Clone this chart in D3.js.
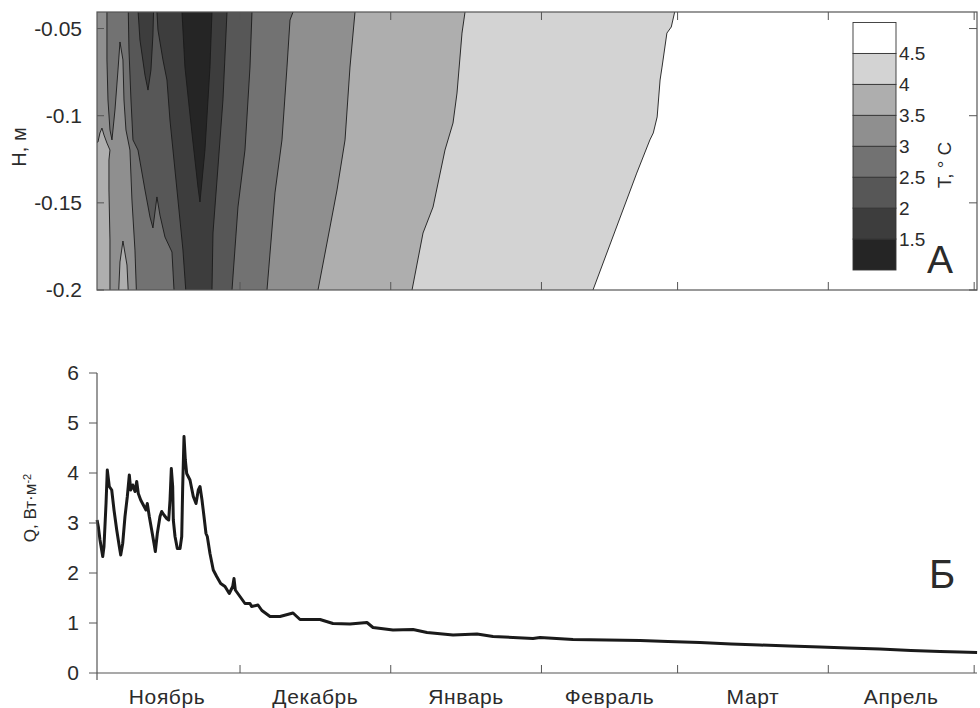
<!DOCTYPE html>
<html>
<head>
<meta charset="utf-8">
<style>
  body {
    margin: 0;
    background: #fff
  }
  text {
    font-family: "Liberation Sans", Arial, sans-serif;
    fill: #2b2b2b
  }
</style>
<script type="text/javascript" src="https://d3js.org/d3.v7.min.js"></script>
</head>
<body>
<svg id="chart" width="980" height="708"></svg>
<script type="text/javascript">
// ---- data: days are counted from 1 November, H in metres, T in deg C ----
const monthNames = ['Ноябрь', 'Декабрь', 'Январь', 'Февраль', 'Март', 'Апрель']
const depthTicks = [-0.05, -0.1, -0.15, -0.2]
const qTicks = [0, 1, 2, 3, 4, 5, 6]

// temperature levels and the grey of each band (band i lies below level i)
const tLevels = [1.5, 2, 2.5, 3, 3.5, 4, 4.5]
const bandEdges = [1, 1.5, 2, 2.5, 3, 3.5, 4, 4.5, 5]
const bandGreys = ['#252525', '#3d3d3d', '#575757', '#727272', '#8f8f8f', '#aeaeae', '#d3d3d3', '#ffffff']

// areas where T is below each level, as [day, H] outlines
const below45 = [[[-2, -0.03], [119.4, -0.03], [119.4, -0.0405], [118.7, -0.0491], [117.8, -0.0526], [116.8, -0.0721],
  [116.4, -0.0795], [115.8, -0.1007], [115.0, -0.1099], [114.3, -0.1139], [111.6, -0.1329], [102.6, -0.2],
  [102.6, -0.21], [-2, -0.21]]]
const below4 = [[[-2, -0.03], [76.28, -0.03], [76.28, -0.0405], [75.66, -0.0526], [74.63, -0.0870], [73.81, -0.1042],
  [72.16, -0.1197], [69.70, -0.1524], [67.64, -0.1673], [65.38, -0.2], [65.38, -0.21], [-2, -0.21]]]
const below35 = [[[-2, -0.03], [53.65, -0.03], [53.65, -0.0405], [52.62, -0.0721], [51.60, -0.1139], [49.95, -0.1426],
  [48.51, -0.1639], [46.04, -0.2], [46.04, -0.21], [7.16, -0.21], [6.75, -0.1857], [5.92, -0.1719], [5.31, -0.1839],
  [4.90, -0.21], [3.25, -0.21], [3.25, -0.1713], [3.04, -0.1426], [3.04, -0.1254], [3.25, -0.1197], [2.63, -0.1157],
  [2.02, -0.1111], [1.60, -0.1071], [1.19, -0.1099], [0.78, -0.1151], [-2, -0.1174]]]
const below3 = [[[2.63, -0.03], [40.90, -0.03], [40.90, -0.0405], [40.28, -0.0451], [39.66, -0.0721], [38.63, -0.1139],
  [37.19, -0.1443], [35.55, -0.2], [35.55, -0.21], [8.80, -0.21], [8.39, -0.1771], [7.77, -0.1484], [7.36, -0.1197],
  [6.54, -0.1082], [6.13, -0.0910], [5.92, -0.0680], [5.31, -0.0577], [4.90, -0.0738], [4.28, -0.0967],
  [3.66, -0.1139], [3.25, -0.1082], [2.84, -0.0910], [2.63, -0.0680]]]
const below25 = [[[6.95, -0.03], [32.46, -0.03], [32.46, -0.0405], [32.05, -0.0721], [31.02, -0.1197], [29.58, -0.1524],
  [28.35, -0.2], [28.35, -0.21], [16.62, -0.21], [16.00, -0.1782], [14.56, -0.1696], [13.53, -0.1570],
  [12.91, -0.1466], [12.09, -0.1644], [11.48, -0.1581], [10.45, -0.1426], [9.01, -0.1197], [7.98, -0.1139],
  [7.57, -0.0910], [7.16, -0.0623]]]
const below2 = [
  [[12.71, -0.03], [27.32, -0.03], [27.32, -0.0405], [26.49, -0.0910], [25.47, -0.1294], [24.44, -0.1673],
    [24.23, -0.2], [24.23, -0.21], [19.09, -0.21], [18.26, -0.1771], [17.24, -0.1484], [16.21, -0.1197],
    [15.59, -0.1025], [14.97, -0.0795], [14.15, -0.0680], [13.12, -0.0508]],
  [[8.80, -0.03], [9.42, -0.0566], [10.45, -0.0767], [11.07, -0.0853], [11.68, -0.0738], [12.09, -0.0537], [12.30, -0.03]]
]
const below15 = [[[18.06, -0.03], [18.06, -0.0405], [18.67, -0.0721], [20.11, -0.1099], [21.35, -0.1409], [21.76, -0.1495],
  [22.79, -0.1197], [23.82, -0.0721], [24.23, -0.0405], [24.23, -0.03]]]
const tRegions = [below45, below4, below35, below3, below25, below2, below15]
const regionLevels = [4.5, 4, 3.5, 3, 2.5, 2, 1.5]

// heat flux Q, W/m2: [day, value]
const qPoints = [
  [0.6, 3.06], [0.85, 2.93], [1.2, 2.66], [1.76, 2.33], [2.02, 2.53], [2.44, 3.39], [2.7, 4.06], [3.11, 3.73],
  [3.61, 3.66], [4.08, 3.26], [4.64, 2.86], [5.17, 2.53], [5.46, 2.36], [5.87, 2.59], [6.34, 3.13], [6.82, 3.53],
  [7.23, 3.96], [7.52, 3.66], [7.93, 3.76], [8.4, 3.63], [8.75, 3.83], [9.08, 3.59], [9.57, 3.46], [10.11, 3.36],
  [10.66, 3.26], [10.93, 3.39], [11.34, 3.13], [11.83, 2.86], [12.31, 2.59], [12.58, 2.43], [12.99, 2.79],
  [13.54, 3.13], [13.89, 3.23], [14.36, 3.16], [14.92, 3.09], [15.33, 3.06], [15.6, 3.46], [15.87, 4.09],
  [16.15, 3.73], [16.28, 3.06], [16.63, 2.73], [17.1, 2.49], [17.66, 2.49], [18.01, 2.73], [18.21, 3.73],
  [18.48, 4.73], [18.75, 4.26], [19.03, 3.99], [19.71, 3.86], [20.39, 3.53], [20.95, 3.39], [21.42, 3.66],
  [21.77, 3.73], [22.18, 3.46], [22.59, 3.13], [23.0, 2.79], [23.27, 2.73], [23.82, 2.39], [24.5, 2.06],
  [25.2, 1.93], [26.02, 1.79], [26.91, 1.73], [27.79, 1.59], [28.49, 1.73], [28.76, 1.89], [29.03, 1.66],
  [29.99, 1.53], [31.02, 1.39], [32.05, 1.39], [32.39, 1.33], [33.7, 1.36], [34.5, 1.25], [36.17, 1.13],
  [38.22, 1.13], [40.9, 1.2], [42.34, 1.07], [46.45, 1.07], [49.12, 0.99], [52.62, 0.98], [56.11, 1.01],
  [57.35, 0.91], [61.46, 0.86], [65.58, 0.87], [68.46, 0.81], [73.81, 0.76], [78.75, 0.78], [82.04, 0.73],
  [90.26, 0.69], [91.7, 0.71], [98.49, 0.67], [112.3, 0.65], [118, 0.63], [124.6, 0.61], [131, 0.58],
  [136.9, 0.56], [143, 0.54], [149.3, 0.52], [155, 0.5], [161.6, 0.48], [168, 0.45], [174, 0.43], [178, 0.42],
  [181.6, 0.41]
]

// ---- scales ----
const DAY = 864e5
const t0 = Date.UTC(2014, 10, 1)
const toDate = d => new Date(t0 + d * DAY)

const x = d3.scaleUtc().domain([toDate(0.583), toDate(181.583)]).range([97, 977])
const yA = d3.scaleLinear().domain([-0.2, -0.0405]).range([290, 12])
const yB = d3.scaleLinear().domain([0, 6]).range([673, 373])
const yBar = d3.scaleLinear().domain([1, 5]).range([270, 22.5])

const monthTicks = d3.utcMonth.range(toDate(1), toDate(182))
const monthStarts = d3.utcMonth.range(toDate(0), toDate(181))

let svg = d3.select('#chart')

// ---- panel A: filled contours ----
svg.append('clipPath').attr('id', 'clipA')
  .append('rect').attr('x', 97).attr('y', 12).attr('width', 880).attr('height', 278)

let gA = svg.append('g')
let plotA = gA.append('g').attr('clip-path', 'url(#clipA)')
plotA.append('rect').attr('x', 97).attr('y', 12).attr('width', 880).attr('height', 278)
  .attr('fill', bandGreys[7])

let outline = d3.line().x(p => x(toDate(p[0]))).y(p => yA(p[1]))

tRegions.forEach(function(polys, i) {
  let band = tLevels.indexOf(regionLevels[i])
  plotA.selectAll(null)
    .data(polys)
    .enter()
    .append('path')
    .attr('d', d => outline(d) + 'Z')
    .attr('fill', bandGreys[band])
    .attr('stroke', '#1a1a1a')
    .attr('stroke-width', 0.9)
    .attr('stroke-linejoin', 'round')
})

gA.append('rect').attr('x', 97).attr('y', 12).attr('width', 880).attr('height', 278)
  .attr('fill', 'none').attr('stroke', '#555').attr('stroke-width', 1.2)

// inward ticks on all four sides
monthTicks.forEach(function(m) {
  gA.append('line').attr('x1', x(m)).attr('x2', x(m)).attr('y1', 290).attr('y2', 282)
    .attr('stroke', '#555').attr('stroke-width', 1)
  gA.append('line').attr('x1', x(m)).attr('x2', x(m)).attr('y1', 12).attr('y2', 20)
    .attr('stroke', '#555').attr('stroke-width', 1)
})
depthTicks.forEach(function(v) {
  gA.append('line').attr('x1', 97).attr('x2', 104).attr('y1', yA(v)).attr('y2', yA(v))
    .attr('stroke', '#555').attr('stroke-width', 1)
  gA.append('line').attr('x1', 977).attr('x2', 969).attr('y1', yA(v)).attr('y2', yA(v))
    .attr('stroke', '#555').attr('stroke-width', 1)
  gA.append('text')
    .attr('x', 82).attr('y', yA(v)).attr('dy', '0.35em')
    .attr('text-anchor', 'end')
    .style('font-size', '21px')
    .text(String(v))
})

gA.append('text')
  .attr('transform', 'translate(19,147) rotate(-90)')
  .attr('text-anchor', 'middle').attr('dy', '0.35em')
  .style('font-size', '20px')
  .text('Н, м')

// colour bar
let bands = d3.range(8)
gA.selectAll('rect.band')
  .data(bands)
  .enter()
  .append('rect')
  .attr('class', 'band')
  .attr('x', 853)
  .attr('width', 43)
  .attr('y', i => yBar(bandEdges[i + 1]))
  .attr('height', i => yBar(bandEdges[i]) - yBar(bandEdges[i + 1]))
  .attr('fill', i => bandGreys[i])
  .attr('stroke', '#333')
  .attr('stroke-width', 0.9)

gA.selectAll('text.lev')
  .data(tLevels)
  .enter()
  .append('text')
  .attr('class', 'lev')
  .attr('x', 899)
  .attr('y', d => yBar(d))
  .attr('dy', '0.35em')
  .style('font-size', '19px')
  .text(d => String(d))

gA.append('text')
  .attr('transform', 'translate(944,165) rotate(-90)')
  .attr('text-anchor', 'middle').attr('dy', '0.35em')
  .style('font-size', '19px')
  .text('T, ° C')

gA.append('text')
  .attr('x', 927).attr('y', 273)
  .style('font-size', '39px')
  .text('А')

// ---- panel B: heat flux ----
let gB = svg.append('g')

let qLine = d3.line()
  .x(p => x(toDate(p[0])))
  .y(p => yB(p[1]))

gB.append('path')
  .datum(qPoints)
  .attr('d', qLine)
  .attr('fill', 'none')
  .attr('stroke', '#1a1a1a')
  .attr('stroke-width', 3)
  .attr('stroke-linejoin', 'round')

gB.append('line').attr('x1', 97).attr('x2', 97).attr('y1', yB(6)).attr('y2', yB(0) + 7)
  .attr('stroke', '#555').attr('stroke-width', 1.2)
gB.append('line').attr('x1', 97).attr('x2', 977).attr('y1', yB(0)).attr('y2', yB(0))
  .attr('stroke', '#555').attr('stroke-width', 1.2)

qTicks.forEach(function(v) {
  gB.append('line').attr('x1', 89).attr('x2', 97).attr('y1', yB(v)).attr('y2', yB(v))
    .attr('stroke', '#555').attr('stroke-width', 1)
  gB.append('text')
    .attr('x', 79).attr('y', yB(v)).attr('dy', '0.35em')
    .attr('text-anchor', 'end')
    .style('font-size', '21px')
    .text(String(v))
})

monthTicks.forEach(function(m) {
  gB.append('line').attr('x1', x(m)).attr('x2', x(m)).attr('y1', yB(0)).attr('y2', yB(0) - 8)
    .attr('stroke', '#555').attr('stroke-width', 1)
})

gB.selectAll('text.month')
  .data(monthStarts)
  .enter()
  .append('text')
  .attr('class', 'month')
  .attr('x', function(m) {
    let next = d3.utcMonth.offset(m, 1)
    return x(new Date((m.getTime() + next.getTime()) / 2))
  })
  .attr('y', 704)
  .attr('text-anchor', 'middle')
  .style('font-size', '21px')
  .style('letter-spacing', '0.6px')
  .text((m, i) => monthNames[i])

let qLabel = gB.append('text')
  .attr('transform', 'translate(30,508) rotate(-90)')
  .attr('text-anchor', 'middle').attr('dy', '0.35em')
  .style('font-size', '17px')
qLabel.append('tspan').text('Q, Вт·м')
qLabel.append('tspan').attr('dy', '-0.45em').style('font-size', '11px').text('-2')

gB.append('text')
  .attr('x', 929).attr('y', 588)
  .style('font-size', '40px')
  .text('Б')
</script>
</body>
</html>
